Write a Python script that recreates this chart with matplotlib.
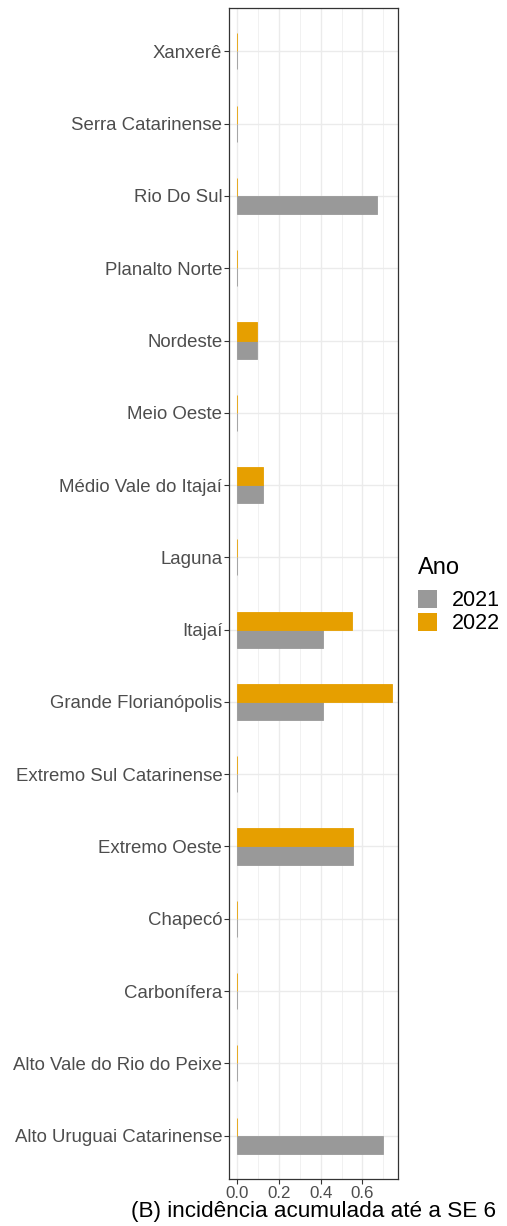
import numpy as np
import matplotlib.pyplot as plt
from matplotlib.patches import Patch

# regions, bottom to top (as drawn)
regions = ["Alto Uruguai Catarinense", "Alto Vale do Rio do Peixe", "Carbonífera",
           "Chapecó", "Extremo Oeste", "Extremo Sul Catarinense", "Grande Florianópolis",
           "Itajaí", "Laguna", "Médio Vale do Itajaí", "Meio Oeste", "Nordeste",
           "Planalto Norte", "Rio Do Sul", "Serra Catarinense", "Xanxerê"]
inc_2021 = [0.70, 0, 0, 0, 0.555, 0, 0.41, 0.41, 0, 0.123, 0, 0.095, 0, 0.67, 0, 0]
inc_2022 = [0, 0, 0, 0, 0.555, 0, 0.74, 0.55, 0, 0.123, 0, 0.095, 0, 0, 0, 0]
years = ["2021", "2022"]
colors = ["#999999", "#E69F00"]

plt.rcParams['font.family'] = ['Liberation Sans', 'DejaVu Sans']

W, H = 507, 1226
fig = plt.figure(figsize=(W / 100, H / 100), dpi=100)
# panel: x 229..398, y 8..1179 px
ax = fig.add_axes([229.3 / W, 1 - 1179 / H, 169 / W, 1171 / H])

y = np.arange(1, len(regions) + 1)
w = 0.25
ax.barh(y - w / 2, inc_2021, height=w, color=colors[0], edgecolor=colors[0], linewidth=0.6, zorder=3)
ax.barh(y + w / 2, inc_2022, height=w, color=colors[1], edgecolor=colors[1], linewidth=0.6, zorder=3)

ax.set_ylim(0.4, len(regions) + 0.6)
ax.set_xlim(-0.0384, 0.772)
ax.set_yticks(y)
ax.set_yticklabels(regions)
ax.set_xticks([0, 0.2, 0.4, 0.6])
ax.set_xticklabels(["0.0", "0.2", "0.4", "0.6"])
ax.set_xticks([0.1, 0.3, 0.5, 0.7], minor=True)
ax.grid(True, which='major', color='#EBEBEB', linewidth=1.0, zorder=0)
ax.grid(True, which='minor', axis='x', color='#EBEBEB', linewidth=0.5, zorder=0)
ax.tick_params(axis='both', which='major', labelcolor='#4D4D4D',
               color='#333333', length=3.5, width=0.8)
ax.tick_params(axis='y', labelsize=13.4, pad=1.5)
ax.tick_params(axis='x', labelsize=12.2, pad=1.5)
ax.tick_params(axis='x', which='minor', length=0)
for s in ax.spines.values():
    s.set_color('#333333')
    s.set_linewidth(0.9)

# axis title, centred under the panel
fig.text(313.7 / W, 1 - 1211 / H, "(B) incidência acumulada até a SE 6",
         fontsize=16.2, color='black', ha='center', va='center')

# legend
fig.text(418 / W, 1 - 568 / H, "Ano", fontsize=17, ha='left', va='center')
handles = [Patch(facecolor=c, edgecolor='none') for c in colors]
leg = fig.legend(handles, years, loc='upper left', bbox_to_anchor=(418 / W, 1 - 590 / H),
                 frameon=False, fontsize=15.5, handlelength=0.88, handleheight=0.88,
                 handletextpad=0.7, labelspacing=0.08, borderaxespad=0, borderpad=0)

fig.savefig("out.png", dpi=100)
